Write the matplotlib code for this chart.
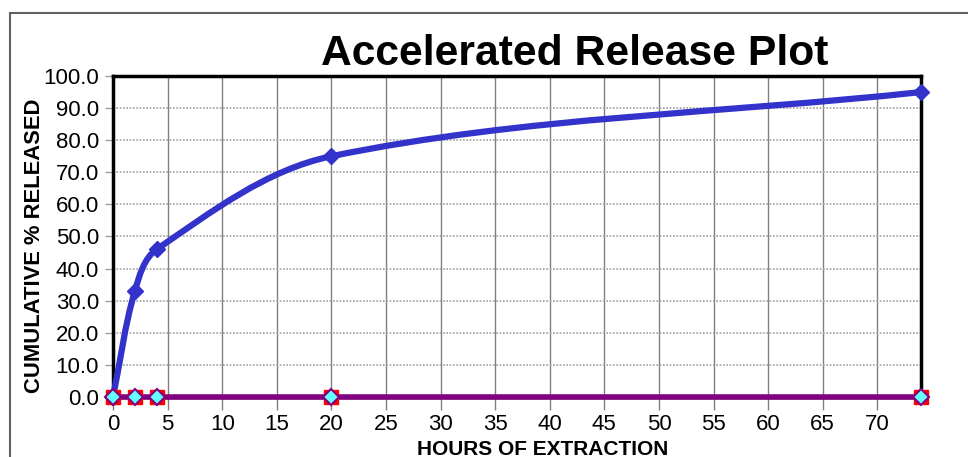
import numpy as np
import matplotlib
matplotlib.use('Agg')
import matplotlib.pyplot as plt
from matplotlib.path import Path
from matplotlib.patches import PathPatch, Rectangle

plt.rcParams['font.family'] = ['Liberation Sans', 'DejaVu Sans']

# data
hours = [0, 2, 4, 20, 74]
released = [0, 33, 46, 75, 95]
baseline = [0, 0, 0, 0, 0]

x_ticks = list(range(0, 75, 5))
y_ticks = [0, 10, 20, 30, 40, 50, 60, 70, 80, 90, 100]

W, H = 968, 457
fig = plt.figure(figsize=(W / 100, H / 100), dpi=100)

# outer chart frame (cropped on right/bottom)
fig.patches.append(Rectangle((10 / W, -0.1), 1.2, (H - 13) / H + 0.1,
                             transform=fig.transFigure, fill=False,
                             edgecolor='#606060', linewidth=1.5))

ax = fig.add_axes([113 / W, (H - 397) / H, 808 / W, 321 / H])
ax.set_xlim(0, 74)
ax.set_ylim(0, 100)

# smoothed line, built in screen space so the bends look like the original
pts = ax.transData.transform(np.column_stack([hours, released]))
n = len(pts)
tang = []
for i in range(n):
    a = pts[max(i - 1, 0)]
    b = pts[min(i + 1, n - 1)]
    d = b - a
    tang.append(d / np.hypot(*d))
verts = [tuple(pts[0])]
codes = [Path.MOVETO]
for i in range(n - 1):
    seg = np.hypot(*(pts[i + 1] - pts[i]))
    c1 = pts[i] + tang[i] * seg / 3
    c2 = pts[i + 1] - tang[i + 1] * seg / 3
    verts += [tuple(c1), tuple(c2), tuple(pts[i + 1])]
    codes += [Path.CURVE4] * 3
verts = ax.transData.inverted().transform(np.array(verts))
ax.add_patch(PathPatch(Path(verts, codes), fill=False, edgecolor='#3333CC',
                       linewidth=4.5, capstyle='round', joinstyle='round',
                       zorder=4, clip_on=False))
ax.plot(hours, released, linestyle='none', marker='D', markersize=8,
        color='#3333CC', zorder=5, clip_on=False)

# baseline series
ax.plot(hours, baseline, color='#800080', linewidth=4, zorder=6, clip_on=False)
ax.plot(hours, baseline, linestyle='none', marker='s', markersize=10.5,
        color='#FF0000', zorder=7, clip_on=False)
ax.plot(hours, baseline, linestyle='none', marker='D', markersize=8,
        markerfacecolor='#66FFFF', markeredgecolor='#800080',
        markeredgewidth=1.5, zorder=8, clip_on=False)

ax.set_xticks(x_ticks)
ax.set_yticks(y_ticks)
ax.set_yticklabels([f'{v:.1f}' for v in y_ticks])
ax.tick_params(axis='x', length=9, color='#808080', width=1, labelsize=16, pad=3)
ax.tick_params(axis='y', length=6, color='#a0a0a0', width=1, labelsize=16, pad=4)
ax.grid(axis='x', color='#808080', linewidth=1)
ax.grid(axis='y', color='#a0a0a0', linewidth=1.2, linestyle=(0, (1, 1)))
ax.set_axisbelow(True)
for s in ax.spines.values():
    s.set_linewidth(2.5)
    s.set_color('black')

fig.text(35 / W, 1 - 246 / H, 'CUMULATIVE % RELEASED', fontsize=15.8,
         fontweight='bold', rotation=90, ha='center', va='center')
fig.text(543 / W, 1 - 440 / H, 'HOURS OF EXTRACTION', fontsize=15,
         fontweight='bold', ha='center', va='top')
fig.text(575 / W, 1 - 54 / H, 'Accelerated Release Plot', fontsize=30.7,
         fontweight='bold', ha='center', va='center')

fig.savefig('out.png', dpi=100)
